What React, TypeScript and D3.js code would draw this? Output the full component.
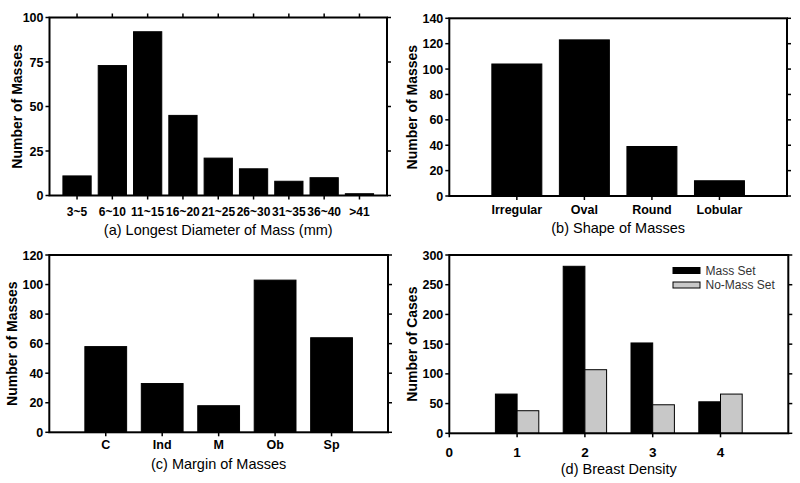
import { useEffect, useRef } from "react";
import * as d3 from "d3";

// (a) longest diameter
const diamCats = ["3~5", "6~10", "11~15", "16~20", "21~25", "26~30", "31~35", "36~40", ">41"];
const diamVals = [11, 73, 92, 45, 21, 15, 8, 10, 1];

// (b) shape
const shapeCats = ["Irregular", "Oval", "Round", "Lobular"];
const shapeVals = [104, 123, 39, 12];

// (c) margin
const marginCats = ["C", "Ind", "M", "Ob", "Sp"];
const marginVals = [58, 33, 18, 103, 64];

// (d) breast density
const densityCats = [1, 2, 3, 4];
const massSet = [66, 281, 152, 53];
const noMassSet = [38, 107, 48, 66];
const densityTicks = [0, 1, 2, 3, 4];
const legendNames = ["Mass Set", "No-Mass Set"];

const FONT = "'Liberation Sans', Arial, sans-serif";
const GRAY = "#c8c8c8";

type Frame = { left: number; right: number; top: number; bottom: number };

const drawFrame = (g, frame: Frame, x, y, yTicks: number[], xTicks: number[], opts) => {
    const { left, right, top, bottom } = frame;

    // left / right ticks + labels
    yTicks.forEach((t) => {
        g.append("line")
            .attr("x1", left - 4).attr("x2", left)
            .attr("y1", y(t)).attr("y2", y(t))
            .attr("stroke", "#000").attr("stroke-width", 1.5);
        g.append("line")
            .attr("x1", right).attr("x2", right + 4)
            .attr("y1", y(t)).attr("y2", y(t))
            .attr("stroke", "#000").attr("stroke-width", 1.5);
        g.append("text")
            .attr("x", left - 6)
            .attr("y", y(t))
            .attr("dy", "0.36em")
            .attr("text-anchor", "end")
            .style("font-family", FONT)
            .style("font-weight", "bold")
            .style("font-size", "12.5px")
            .text(t);
    });

    // bottom ticks
    xTicks.forEach((t) => {
        g.append("line")
            .attr("x1", x(t)).attr("x2", x(t))
            .attr("y1", bottom).attr("y2", bottom + 4)
            .attr("stroke", "#000").attr("stroke-width", 1.5);
        if (opts.topTicks) {
            g.append("line")
                .attr("x1", x(t)).attr("x2", x(t))
                .attr("y1", top - 4).attr("y2", top)
                .attr("stroke", "#000").attr("stroke-width", 1.5);
        }
    });

    // box
    g.append("rect")
        .attr("x", left).attr("y", top)
        .attr("width", right - left).attr("height", bottom - top)
        .attr("fill", "none").attr("stroke", "#000").attr("stroke-width", 2);

    // y title
    g.append("text")
        .attr("transform", `translate(${opts.yTitleX}, ${(top + bottom) / 2}) rotate(-90)`)
        .attr("dy", "0.36em")
        .attr("text-anchor", "middle")
        .style("font-family", FONT)
        .style("font-weight", "bold")
        .style("font-size", "14px")
        .text(opts.yTitle);

    // x title
    g.append("text")
        .attr("x", (left + right) / 2)
        .attr("y", opts.xTitleY)
        .attr("text-anchor", "middle")
        .style("font-family", FONT)
        .style("font-size", "14.5px")
        .text(opts.xTitle);
};

const drawBars = (g, x, y, positions: number[], values: number[], w: number, offset: number, fill: string) => {
    g.selectAll(null)
        .data(values)
        .enter()
        .append("rect")
        .attr("x", (d, i) => x(positions[i] + offset))
        .attr("width", x(w) - x(0))
        .attr("y", (d) => y(d))
        .attr("height", (d) => y(0) - y(d))
        .attr("fill", fill)
        .attr("stroke", "#000")
        .attr("stroke-width", 1);
};

const catLabels = (g, x, positions: number[], labels, yPos: number, size = 12) => {
    g.selectAll(null)
        .data(labels)
        .enter()
        .append("text")
        .attr("x", (d, i) => x(positions[i]))
        .attr("y", yPos)
        .attr("text-anchor", "middle")
        .style("font-family", FONT)
        .style("font-weight", "bold")
        .style("font-size", `${size}px`)
        .text((d) => d);
};

const App = () => {
    const svgRef = useRef(null);

    useEffect(() => {
        const svg = d3.select(svgRef.current);
        svg.selectAll("*").remove();

        // ---- (a)
        {
            const f = { left: 49.5, right: 387, top: 17.5, bottom: 195.5 };
            const pos = diamCats.map((_, i) => i + 1);
            const x = d3.scaleLinear().domain([0.22, 9.78]).range([f.left, f.right]);
            const y = d3.scaleLinear().domain([0, 100]).range([f.bottom, f.top]);
            const g = svg.append("g");
            drawBars(g, x, y, pos, diamVals, 0.8, -0.4, "#000");
            catLabels(g, x, pos, diamCats, 216);
            drawFrame(g, f, x, y, [0, 25, 50, 75, 100], pos, {
                topTicks: true, yTitle: "Number of Masses", yTitleX: 17,
                xTitle: "(a) Longest Diameter of Mass (mm)", xTitleY: 235,
            });
        }

        // ---- (b)
        {
            const f = { left: 449.3, right: 787, top: 18.3, bottom: 196 };
            const pos = shapeCats.map((_, i) => i + 1);
            const x = d3.scaleLinear().domain([0, 5]).range([f.left, f.right]);
            const y = d3.scaleLinear().domain([0, 140]).range([f.bottom, f.top]);
            const g = svg.append("g");
            drawBars(g, x, y, pos, shapeVals, 0.74, -0.37, "#000");
            catLabels(g, x, pos, shapeCats, 214, 12.5);
            drawFrame(g, f, x, y, d3.range(0, 141, 20), pos, {
                topTicks: false, yTitle: "Number of Masses", yTitleX: 412,
                xTitle: "(b) Shape of Masses", xTitleY: 233,
            });
        }

        // ---- (c)
        {
            const f = { left: 49.3, right: 388, top: 255, bottom: 432.3 };
            const pos = marginCats.map((_, i) => i + 1);
            const x = d3.scaleLinear().domain([0, 6]).range([f.left, f.right]);
            const y = d3.scaleLinear().domain([0, 120]).range([f.bottom, f.top]);
            const g = svg.append("g");
            drawBars(g, x, y, pos, marginVals, 0.74, -0.37, "#000");
            catLabels(g, x, pos, marginCats, 449, 12.5);
            drawFrame(g, f, x, y, d3.range(0, 121, 20), pos, {
                topTicks: false, yTitle: "Number of Masses", yTitleX: 12,
                xTitle: "(c) Margin of Masses", xTitleY: 469,
            });
        }

        // ---- (d)
        {
            const f = { left: 449.3, right: 788.3, top: 255, bottom: 433.3 };
            const x = d3.scaleLinear().domain([0, 5]).range([f.left, f.right]);
            const y = d3.scaleLinear().domain([0, 300]).range([f.bottom, f.top]);
            const g = svg.append("g");
            drawBars(g, x, y, densityCats, massSet, 0.32, -0.32, "#000");
            drawBars(g, x, y, densityCats, noMassSet, 0.32, 0, GRAY);
            catLabels(g, x, densityTicks, densityTicks, 457, 13.5);
            drawFrame(g, f, x, y, d3.range(0, 301, 50), densityTicks, {
                topTicks: false, yTitle: "Number of Cases", yTitleX: 412,
                xTitle: "(d) Breast Density", xTitleY: 474,
            });

            // legend
            const fills = ["#000", GRAY];
            legendNames.forEach((name, i) => {
                g.append("rect")
                    .attr("x", 673).attr("y", 267.5 + i * 14.5)
                    .attr("width", 27).attr("height", 6)
                    .attr("fill", fills[i]).attr("stroke", "#000").attr("stroke-width", 1);
                g.append("text")
                    .attr("x", 705.5).attr("y", 270.5 + i * 14.5)
                    .attr("dy", "0.36em")
                    .style("font-family", FONT)
                    .style("font-size", "12px")
                    .attr("fill", "#333")
                    .text(name);
            });
        }
    }, []);

    return (
        <svg
            ref={svgRef}
            width={800}
            height={483}
            viewBox="0 0 800 483"
            style={{ position: "absolute", left: 0, top: 0, background: "#fff" }}
        ></svg>
    );
};

export default App;
